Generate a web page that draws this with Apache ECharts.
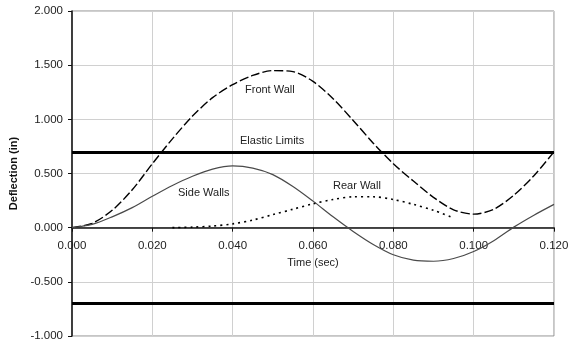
<!DOCTYPE html>
<html>
<head>
<meta charset="utf-8">
<script src="https://cdn.jsdelivr.net/npm/echarts@6/dist/echarts.min.js"></script>
<style>
  html, body { margin: 0; padding: 0; background: #fff; }
  #chart { width: 568px; height: 343px; }
</style>
</head>
<body>
<div id="chart"></div>
<script>
// time steps (sec)
var times = [0, 0.005, 0.01, 0.015, 0.02, 0.025, 0.03, 0.035, 0.04, 0.045, 0.05, 0.055,
  0.06, 0.065, 0.07, 0.075, 0.08, 0.085, 0.09, 0.095, 0.1, 0.105, 0.11, 0.115, 0.12];

// deflection (in)
var frontWall = [0, 0.04, 0.16, 0.35, 0.59, 0.82, 1.03, 1.20, 1.32, 1.405, 1.45, 1.44,
  1.35, 1.19, 0.99, 0.78, 0.59, 0.43, 0.28, 0.165, 0.125, 0.17, 0.30, 0.48, 0.70];
var sideWalls = [0, 0.03, 0.10, 0.185, 0.29, 0.39, 0.475, 0.54, 0.57, 0.55, 0.49, 0.38,
  0.245, 0.10, -0.035, -0.155, -0.25, -0.30, -0.31, -0.285, -0.22, -0.12, 0.005, 0.115, 0.215];
var rearTimes = [0.025, 0.03, 0.035, 0.04, 0.045, 0.05, 0.055, 0.06, 0.065, 0.07, 0.075,
  0.08, 0.085, 0.09, 0.095];
var rearWall = [0.0, 0.005, 0.015, 0.035, 0.07, 0.12, 0.17, 0.22, 0.26, 0.285, 0.285,
  0.26, 0.215, 0.16, 0.09];
var elasticLimits = [0.7, -0.7];

var yMin = -1, yMax = 2;

function pairs(xs, ys) {
  return xs.map(function (x, i) { return [x, ys[i]]; });
}

var myChart = echarts.init(document.getElementById("chart"));

var font = "Liberation Sans, Arial, sans-serif";
var gridTop = 11, gridBottom = 7;
var plotH = 343 - gridTop - gridBottom;
// lift the x axis (line, ticks, labels, name) up to the zero line
var zeroOffset = -plotH * (0 - yMin) / (yMax - yMin);

var option = {
  animation: false,
  textStyle: { fontFamily: font },
  grid: {
    left: 72,
    right: 14,
    top: gridTop,
    bottom: gridBottom,
    outerBoundsMode: "none",
    containLabel: false,
    show: true,
    borderColor: "#8c8c8c",
    borderWidth: 1
  },
  xAxis: {
    type: "value",
    min: 0,
    max: 0.12,
    interval: 0.02,
    position: "bottom",
    offset: zeroOffset,
    name: "Time (sec)",
    nameLocation: "middle",
    nameGap: 30,
    nameTextStyle: { color: "#222", fontSize: 11, fontFamily: font },
    axisLine: { onZero: false, lineStyle: { color: "#111", width: 1.5 } },
    axisTick: { show: true, length: 4, lineStyle: { color: "#111" } },
    axisLabel: {
      color: "#222",
      fontSize: 11.5,
      margin: 12,
      fontFamily: font,
      formatter: function (v) { return v.toFixed(3); }
    },
    splitLine: { show: true, lineStyle: { color: "#d0d0d0", width: 1 } }
  },
  yAxis: {
    type: "value",
    min: yMin,
    max: yMax,
    interval: 0.5,
    name: "Deflection (in)",
    nameLocation: "middle",
    nameGap: 50,
    nameTextStyle: { color: "#111", fontSize: 11, fontWeight: "bold", fontFamily: font },
    axisLine: { show: true, onZero: false, lineStyle: { color: "#111", width: 1.5 } },
    axisTick: { show: true, length: 4, lineStyle: { color: "#111" } },
    axisLabel: {
      color: "#222",
      fontSize: 11.5,
      margin: 9,
      fontFamily: font,
      formatter: function (v) { return v.toFixed(3); }
    },
    splitLine: { show: true, lineStyle: { color: "#d0d0d0", width: 1 } }
  },
  series: [
    {
      name: "Front Wall",
      type: "line",
      data: pairs(times, frontWall),
      smooth: 0.3,
      symbol: "none",
      lineStyle: { color: "#000", width: 1.4, type: [9, 3] },
      markLine: {
        silent: true,
        symbol: "none",
        label: { show: false },
        lineStyle: { color: "#000", width: 3, type: "solid" },
        data: elasticLimits.map(function (v) { return { yAxis: v }; })
      }
    },
    {
      name: "Side Walls",
      type: "line",
      data: pairs(times, sideWalls),
      smooth: 0.3,
      symbol: "none",
      lineStyle: { color: "#4a4a4a", width: 1.2 }
    },
    {
      name: "Rear Wall",
      type: "line",
      data: pairs(rearTimes, rearWall),
      smooth: 0.3,
      symbol: "none",
      lineStyle: { color: "#000", width: 1.6, type: [2, 4] }
    }
  ],
  graphic: [
    { type: "text", left: 245, top: 84, style: { text: "Front Wall", fill: "#222", font: "11px " + font } },
    { type: "text", left: 240, top: 135, style: { text: "Elastic Limits", fill: "#222", font: "11px " + font } },
    { type: "text", left: 178, top: 187, style: { text: "Side Walls", fill: "#222", font: "11px " + font } },
    { type: "text", left: 333, top: 180, style: { text: "Rear Wall", fill: "#222", font: "11px " + font } }
  ]
};

myChart.setOption(option);
window.addEventListener("resize", function () {
  myChart.resize();
});
</script>
</body>
</html>
